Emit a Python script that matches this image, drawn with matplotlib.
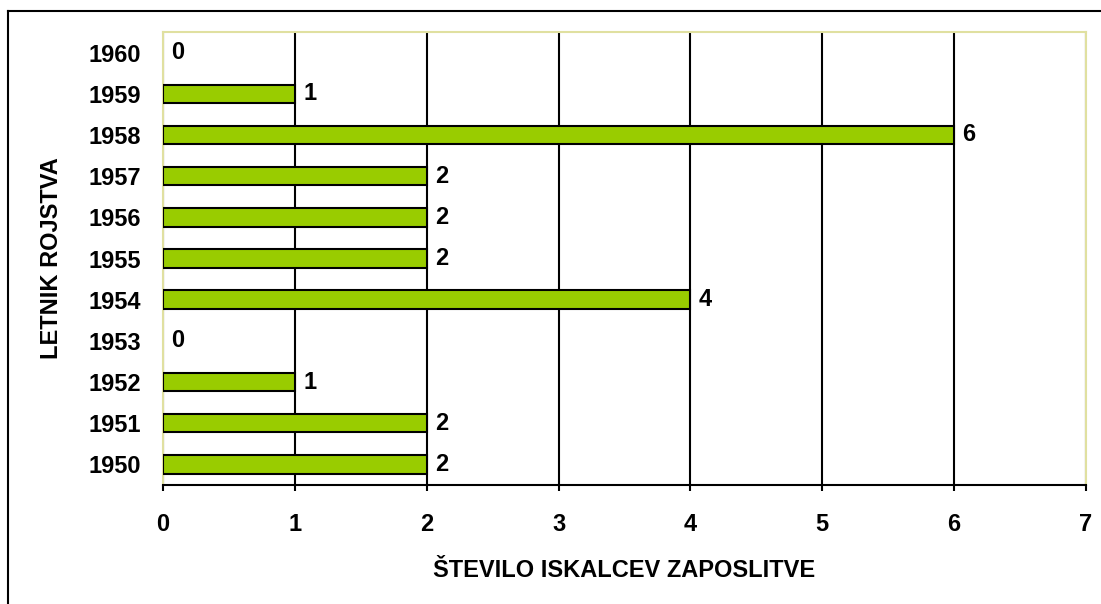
import matplotlib
matplotlib.use("Agg")
import matplotlib.pyplot as plt
from matplotlib.lines import Line2D

years = ["1950", "1951", "1952", "1953", "1954", "1955", "1956", "1957", "1958", "1959", "1960"]
counts = [2, 2, 1, 0, 4, 2, 2, 2, 6, 1, 0]
xticks = [0, 1, 2, 3, 4, 5, 6, 7]

plt.rcParams['font.family'] = ['Liberation Sans', 'DejaVu Sans']
plt.rcParams['font.weight'] = 'bold'

W, H = 1101, 604
FS = 17
fig = plt.figure(figsize=(W / 100, H / 100), dpi=100)
ax = fig.add_axes([163 / W, 1 - 485 / H, (1086 - 163) / W, (485 - 32) / H])

pos = list(range(len(years)))
lws = [1.5 if c > 0 else 0 for c in counts]
ax.barh(pos, counts, height=0.45, color="#99cc00", edgecolor="black", linewidth=lws, zorder=3)
for p, c in zip(pos, counts):
    ax.annotate(str(c), (c, p), xytext=(6, 0), textcoords="offset points",
                va="center", ha="left", fontsize=FS, fontweight="bold", zorder=4)

ax.set_xlim(0, 7)
ax.set_ylim(-0.5, len(years) - 0.5)
ax.set_xticks(xticks)
ax.set_xticklabels([str(t) for t in xticks], fontsize=FS, fontweight="bold")
ax.set_yticks(pos)
ax.set_yticklabels(years, fontsize=FS, fontweight="bold")
ax.tick_params(axis="y", length=0, pad=16)
ax.tick_params(axis="x", length=4.5, width=1.5, pad=16, direction="out")
ax.grid(axis="x", color="black", linewidth=1.5, zorder=1)

for s in ["top", "right", "left"]:
    ax.spines[s].set_color("#e0e0a0")
    ax.spines[s].set_linewidth(1.5)
ax.spines["bottom"].set_color("black")
ax.spines["bottom"].set_linewidth(1.5)

fig.text(624.5 / W, 1 - 577 / H, "ŠTEVILO ISKALCEV ZAPOSLITVE", fontsize=FS, fontweight="bold",
         ha="center", va="baseline")
fig.text(52 / W, 1 - 258 / H, "LETNIK ROJSTVA", fontsize=FS, fontweight="bold",
         ha="center", va="center", rotation=90)

# outer chart border (left and top visible)
fig.add_artist(Line2D([8 / W, 8 / W], [0, 1 - 11 / H], color="black", linewidth=1.5, transform=fig.transFigure))
fig.add_artist(Line2D([8 / W, 1], [1 - 11 / H, 1 - 11 / H], color="black", linewidth=1.5, transform=fig.transFigure))

fig.savefig("out.png", dpi=100)
